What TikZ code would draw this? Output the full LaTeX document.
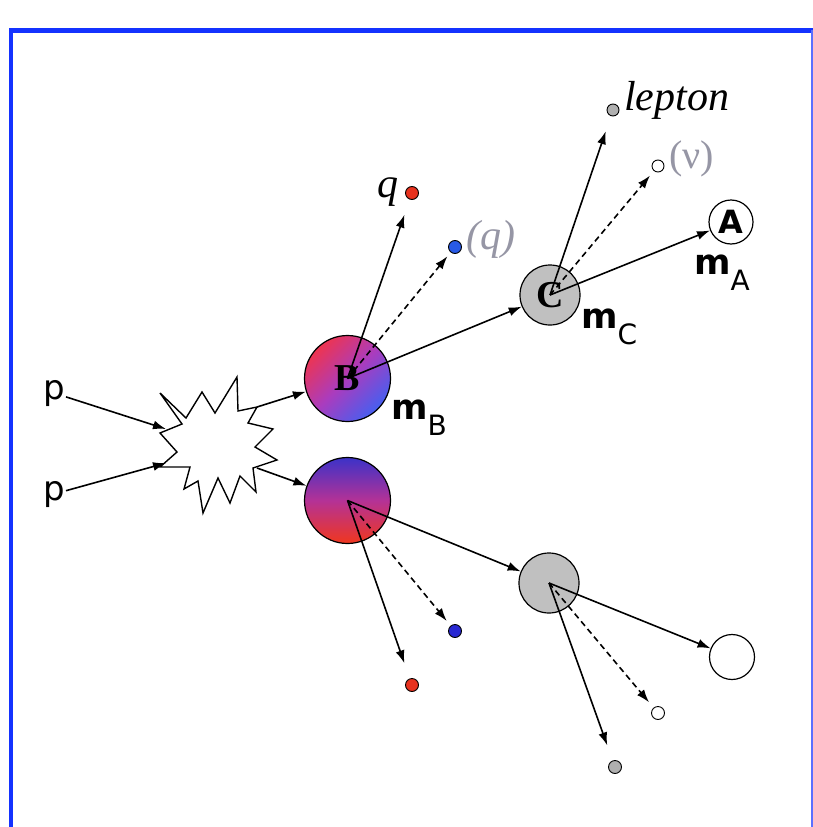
\documentclass[tikz,border=0pt]{standalone}
\usepackage{fontspec}
\usetikzlibrary{arrows.meta}
\newfontfamily\sansf{DejaVu Sans}
\newfontfamily\seriff{Liberation Serif}
\definecolor{frameblue}{RGB}{20,50,255}
\definecolor{bred}{RGB}{238,52,80}
\definecolor{bpurple}{RGB}{170,60,190}
\definecolor{bblue}{RGB}{70,95,240}
\definecolor{dblue}{RGB}{60,50,200}
\definecolor{dmag}{RGB}{180,50,150}
\definecolor{dred}{RGB}{240,55,30}
\definecolor{ballgray}{RGB}{192,192,192}
\definecolor{dotred}{RGB}{232,50,30}
\definecolor{dotblueA}{RGB}{40,90,230}
\definecolor{dotblueB}{RGB}{40,40,210}
\definecolor{dotgray}{RGB}{175,175,175}
\definecolor{labgray}{RGB}{150,150,165}
\newcommand\mysub[1]{\raisebox{-16pt}{\fontsize{28}{28}\selectfont\mdseries #1}}
\begin{document}
\begin{tikzpicture}[x=1pt,y=-1pt,
 arr/.style={-{Latex[length=13pt,width=9pt]}, line width=1.6pt},
 dsh/.style={arr, dash pattern=on 6pt off 4pt},
 ball/.style={circle, draw, line width=1.2pt, minimum size=86pt, inner sep=0pt},
 gball/.style={circle, draw, line width=1.2pt, minimum size=60pt, inner sep=0pt, fill=ballgray},
 wball/.style={circle, draw, line width=1.2pt, minimum size=44pt, inner sep=0pt, fill=white},
 pdot/.style={circle, draw, line width=0.9pt, minimum size=13pt, inner sep=0pt},
 ptext/.style={inner sep=1pt, anchor=base west, font=\sansf\fontsize{34}{34}\selectfont},
 mtext/.style={inner sep=0pt, anchor=base west, font=\sansf\bfseries\fontsize{35}{35}\selectfont},
 itext/.style={inner sep=0pt, anchor=base west, font=\seriff\itshape\fontsize{42}{42}\selectfont},
 gtext/.style={inner sep=0pt, anchor=base west, text=labgray, font=\seriff\fontsize{40}{40}\selectfont},
 bigl/.style={font=\seriff\bfseries\fontsize{38}{38}\selectfont}
]
\useasboundingbox (0,0) rectangle (813,827);
\fill[white] (0,0) rectangle (813,827);
% frame
\draw[frameblue, line width=5pt] (9,30.5) -- (813,30.5);
\draw[frameblue, line width=4pt] (11.3,28) -- (11.3,827);
\draw[frameblue!70, line width=1.5pt] (812,30) -- (812,827);

% starburst
\draw[line width=1.4pt, fill=white, line join=miter]
 (160,393) -- (186,418) -- (202,392) -- (215,413) -- (237,377) -- (238,411)
 -- (257,407) -- (248,423) -- (273,429) -- (255,447) -- (277,460) -- (253,468)
 -- (256,492) -- (240,476) -- (230,503) -- (218,478) -- (203,513) -- (198,481)
 -- (184,489) -- (190,467) -- (160,467) -- (177,452) -- (160,433) -- (182,424) -- cycle;
\coordinate (s1) at (166,429);
\coordinate (s2) at (166,463);
\coordinate (s3) at (257,407);
\coordinate (s4) at (257,468);

% p labels
\node[ptext] (p1) at (42,399) {p};
\node[ptext] (p2) at (42,500) {p};

% big balls
\node[ball, top color=bred, bottom color=bblue, middle color=bpurple, shading angle=45, bigl] (B) at (347.5,378.5) {B};
\node[ball, top color=dblue, bottom color=dred, middle color=dmag] (D) at (347.5,500.5) {};
\node[gball, bigl] (C) at (550,295) {C};
\node[gball] (C2) at (549,583) {};
\node[wball, font=\sansf\bfseries\fontsize{32}{32}\selectfont] (A) at (731,222) {A};
\node[wball, minimum size=45pt] (A2) at (732,657) {};

% dots upper
\node[pdot, fill=dotred] (qd) at (412,193) {};
\node[pdot, fill=dotblueA] (qbd) at (455,247) {};
\node[pdot, fill=dotgray, minimum size=12pt] (ld) at (613,110) {};
\node[pdot, fill=white, minimum size=12pt] (nd) at (658,166) {};
% dots lower
\node[pdot, fill=dotred] (qd2) at (412,685) {};
\node[pdot, fill=dotblueB] (qbd2) at (455,631) {};
\node[pdot, fill=dotgray] (ld2) at (615,767) {};
\node[pdot, fill=white] (nd2) at (658,713) {};

% labels
\node[mtext] (mB) at (391,419) {m\mysub{B}};
\node[mtext] (mC) at (581,328) {m\mysub{C}};
\node[mtext] (mA) at (694,274) {m\mysub{A}};
\node[itext] (ql) at (377,197) {q};
\node[itext, text=labgray] (qbl) at (466,249) {(q)};
\node[itext] (ll) at (624,110) {lepton};
\node[gtext] (nl) at (669,168) {(ν)};

% arrows
\draw[arr] (p1) -- (s1);
\draw[arr] (p2) -- (s2);
\draw[arr] (s3) -- (B);
\draw[arr] (s4) -- (D);

\draw[arr, shorten >=16pt] (B.center) -- (qd);
\draw[dsh, shorten >=5pt] (B.center) -- (qbd);
\draw[arr] (B.center) -- (C);
\draw[arr, shorten >=16pt] (C.center) -- (ld);
\draw[dsh, shorten >=6pt] (C.center) -- (nd);
\draw[arr] (C.center) -- (A);

\draw[arr, shorten >=16pt] (D.center) -- (qd2);
\draw[dsh, shorten >=6pt] (D.center) -- (qbd2);
\draw[arr] (D.center) -- (C2);
\draw[arr, shorten >=16pt] (C2.center) -- (ld2);
\draw[dsh, shorten >=7pt] (C2.center) -- (nd2);
\draw[arr] (C2.center) -- (A2);
\end{tikzpicture}
\end{document}
